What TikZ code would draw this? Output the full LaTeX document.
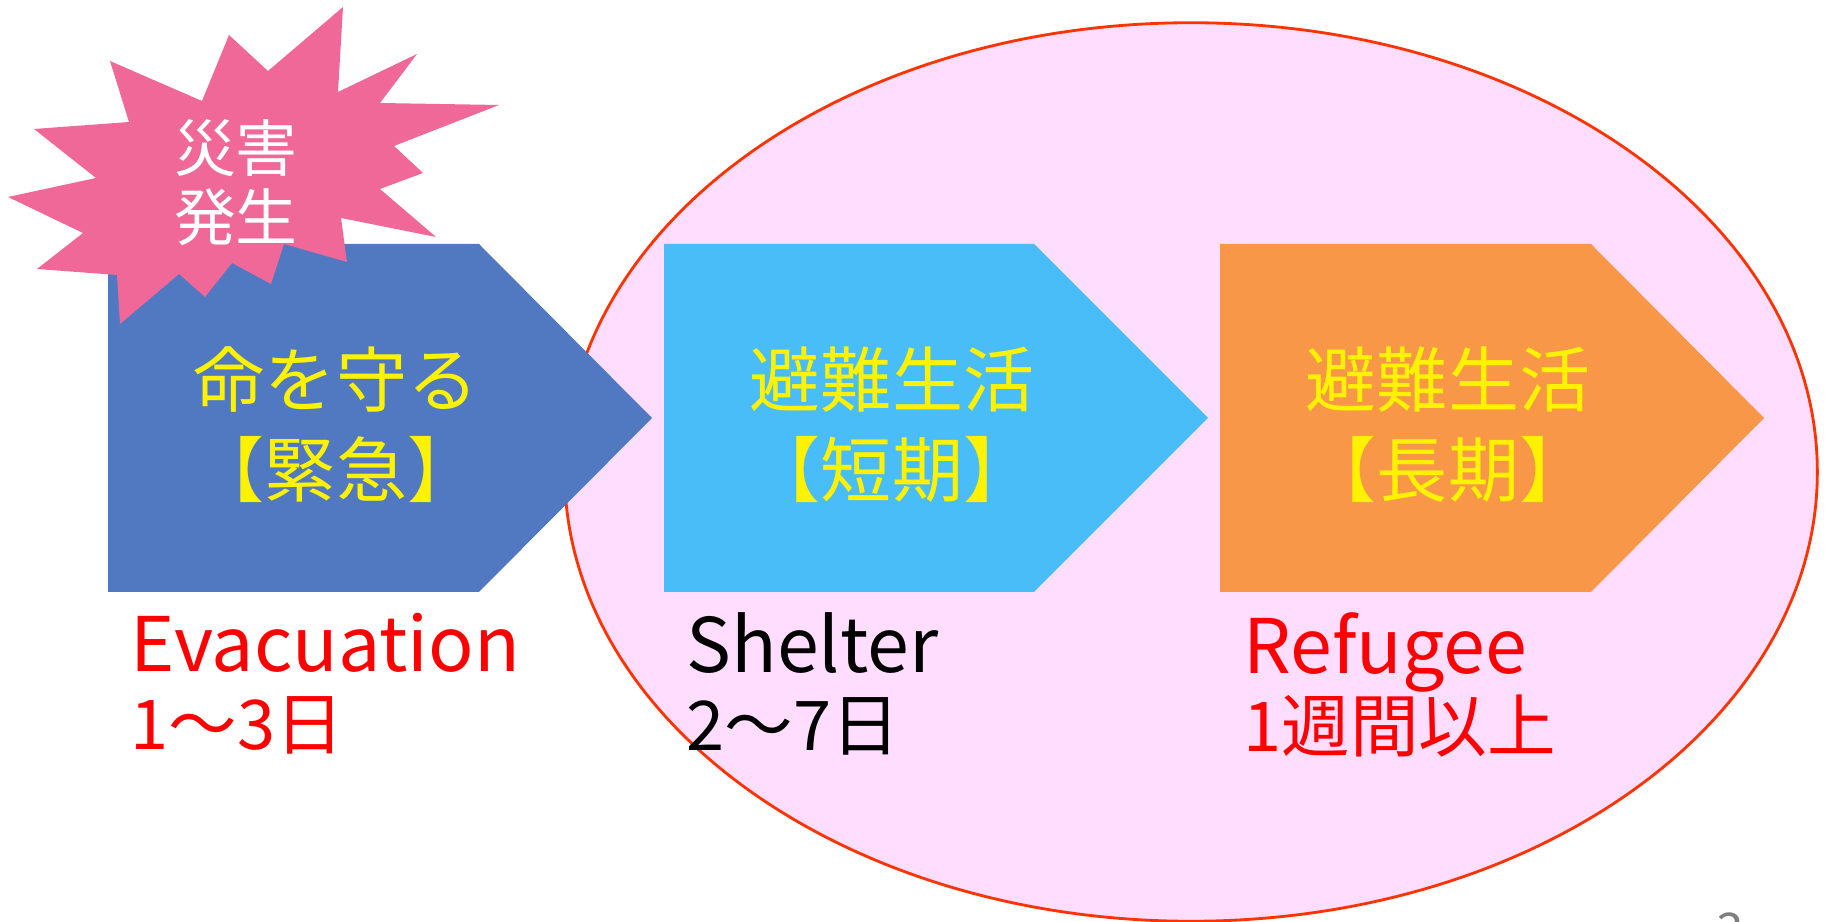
\documentclass[tikz,border=0pt]{standalone}
\usepackage{fontspec}
\setmainfont{Noto Sans CJK JP}

\definecolor{evacblue}{HTML}{5079C1}
\definecolor{shelterblue}{HTML}{48BDF7}
\definecolor{refugeeorange}{HTML}{F79747}
\definecolor{burstpink}{HTML}{F06898}
\definecolor{ovalfill}{HTML}{FFDDFE}
\definecolor{ovalline}{HTML}{FF3300}

\newcommand{\daysize}{\fontsize{19.5}{22.2}\selectfont}

\tikzset{
  stagetext/.style={inner sep=0pt, align=center, text=yellow,
    font=\fontsize{20.2}{25.6}\selectfont},
  periodtext/.style={inner sep=0pt, align=left, anchor=north west,
    font=\fontsize{21.4}{22.2}\selectfont},
}

\begin{document}
\begin{tikzpicture}[line join=miter, x=0.01cm, y=-0.01cm]
            \useasboundingbox (0,0) rectangle (1826,922);

            \draw[fill=ovalfill, draw=ovalline, line width=0.8pt] (1191,472) ellipse (6.26cm and 4.49cm);

            \fill[evacblue] (108,244) -- (479,244) -- (652,418) -- (479,592) -- (108,592) -- cycle;
            \fill[shelterblue] (664,244) -- (1034,244) -- (1208,418) -- (1034,592) -- (664,592) -- cycle;
            \fill[refugeeorange] (1220,244) -- (1591,244) -- (1764,418) -- (1591,592) -- (1220,592) -- cycle;

            \fill[burstpink] (343,7) -- (338,92) -- (417,54) -- (380,103) -- (499,105) -- (394,146)
                -- (423,173) -- (380,189) -- (436,237) -- (341,218) -- (347,262) -- (284,244)
                -- (271,284) -- (232,263) -- (205,297) -- (179,274) -- (120,324) -- (117,275)
                -- (37,269) -- (83,233) -- (8,197) -- (96,178) -- (34,129) -- (129,122)
                -- (110,61) -- (202,101) -- (229,35) -- (268,71) -- cycle;

            \node[inner sep=0pt, align=center, text=white, font=\fontsize{17.6}{19.6}\selectfont]
                (disaster) at (236,183) {災害\\発生};

            \node[stagetext] (evac) at (336,425) {命を守る\\【緊急】};
            \node[stagetext] (shelter) at (892,425) {避難生活\\【短期】};
            \node[stagetext] (refugee) at (1448,425) {避難生活\\【長期】};

            \node[periodtext, text=red] (evacdays) at (130,612) {Evacuation\\{\daysize 1〜3日}};
            \node[periodtext, text=black] (shelterdays) at (686,612) {Shelter\\{\daysize 2〜7日}};
            \node[periodtext, text=red] (refugeedays) at (1243,612) {Refugee\\{\daysize 1週間以上}};

            \node[inner sep=0pt, anchor=north, text=gray, font=\fontsize{14}{14}\selectfont]
                (pagenum) at (1730,912) {3};

        \end{tikzpicture}
\end{document}
